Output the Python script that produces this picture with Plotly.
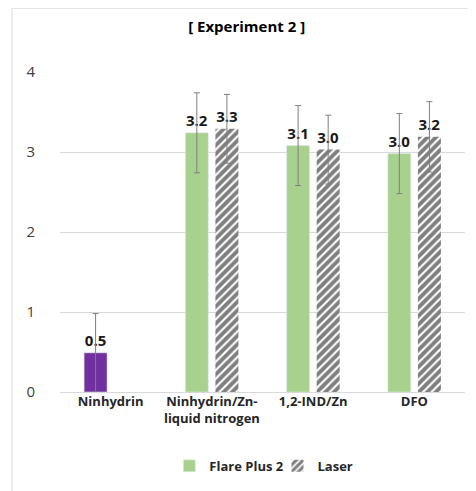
import plotly.graph_objects as go

categories = ["Ninhydrin", "Ninhydrin/Zn-<br>liquid nitrogen", "1,2-IND/Zn", "DFO"]
flare_values = [None, 3.24, 3.08, 2.98]
flare_errors = [0, 0.50, 0.50, 0.50]
flare_labels = ["", "3.2", "3.1", "3.0"]
ninhydrin_value = [0.49]
ninhydrin_error = [0.49]
ninhydrin_label = ["0.5"]
laser_values = [None, 3.29, 3.03, 3.19]
laser_errors = [0, 0.43, 0.43, 0.44]
laser_labels = ["", "3.3", "3.0", "3.2"]
y_ticks = [0, 1, 2, 3, 4]

FONT = "Open Sans"
W = 0.227
err_style = dict(type="data", visible=True, color="#7f7f7f", thickness=1, width=3)
label_font = dict(family=FONT, size=15, color="#1a1a1a")


def bold(lst):
    return ["<b>" + s + "</b>" if s else "" for s in lst]


fig = go.Figure()
fig.add_trace(go.Bar(
    x=categories[:1], y=ninhydrin_value, width=W, offset=-0.262,
    marker=dict(color="#7030A0"), showlegend=False,
    error_y=dict(array=ninhydrin_error, **err_style),
    text=bold(ninhydrin_label), textposition="outside", textfont=label_font, cliponaxis=False,
))
fig.add_trace(go.Bar(
    x=categories, y=flare_values, width=W, offset=-0.262, name="<b>Flare Plus 2</b>",
    marker=dict(color="#A9D18E"), legend="legend",
    error_y=dict(array=flare_errors, **err_style),
    text=bold(flare_labels), textposition="outside", textfont=label_font, cliponaxis=False,
))
fig.add_trace(go.Bar(
    x=categories, y=laser_values, width=W, offset=0.035, name="<b>Laser</b>",
    marker=dict(color="white", line=dict(width=0),
                pattern=dict(shape="/", fgcolor="black", bgcolor="white", size=6, solidity=0.65)),
    legend="legend2",
    error_y=dict(array=laser_errors, **err_style),
    text=bold(laser_labels), textposition="outside", textfont=label_font, cliponaxis=False,
))

leg_common = dict(orientation="h", yanchor="middle", y=-0.227, xanchor="left",
                  font=dict(family=FONT, size=13, color="#262626"), itemwidth=30,
                  bgcolor="rgba(0,0,0,0)")

fig.update_layout(
    width=468, height=483,
    margin=dict(l=52, r=11, t=64, b=98),
    paper_bgcolor="white", plot_bgcolor="white",
    barmode="overlay",
    title=dict(text="<b>[ Experiment 2 ]</b>", x=0.51, xref="container", xanchor="center",
               y=1 - 19 / 483, yanchor="middle",
               font=dict(family=FONT, size=15, color="black")),
    font=dict(family=FONT),
    xaxis=dict(showgrid=False, showline=False, ticks="", tickangle=0,
               tickfont=dict(family=FONT, size=13, color="#262626"),
               tickvals=categories, ticktext=["<b>" + c.replace("<br>", "</b><br><b>") + "</b>" for c in categories]),
    yaxis=dict(range=[0, 4], tickvals=y_ticks, showgrid=True, gridcolor="#d9d9d9", gridwidth=1,
               zeroline=True, zerolinecolor="#d9d9d9", zerolinewidth=1, showline=False,
               ticks="", ticklabelstandoff=24,
               tickfont=dict(family=FONT, size=15, color="#404040")),
    legend=dict(x=0.27, **leg_common),
    legend2=dict(x=0.537, **leg_common),
    shapes=[dict(type="rect", xref="paper", yref="paper", x0=-0.1185, y0=-0.5, x1=1.2, y1=1.1994,
                 line=dict(color="#d9d9d9", width=1), fillcolor="rgba(0,0,0,0)", layer="below")],
)
fig.write_html("out.html")
